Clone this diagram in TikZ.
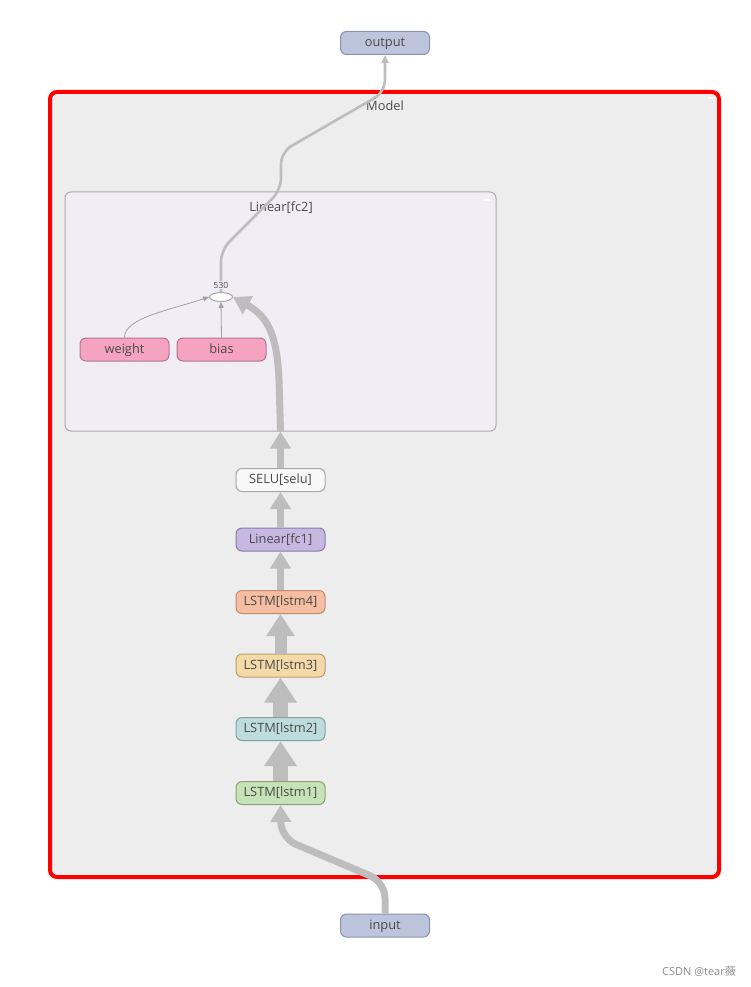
\documentclass[tikz,border=0pt]{standalone}
\usepackage{fontspec}
\setmainfont{Open Sans}
\newfontfamily\cjkfont{Noto Sans CJK SC}
\usetikzlibrary{arrows.meta,shapes.geometric}
\definecolor{edgec}{HTML}{BDBDBD}
\definecolor{txtc}{HTML}{4A4A4A}
\definecolor{iofill}{HTML}{BDC5DD}\definecolor{iodraw}{HTML}{8A92AC}
\definecolor{pinkf}{HTML}{F5A3BF}\definecolor{pinkd}{HTML}{B27590}
\definecolor{seluf}{HTML}{F8F8F8}\definecolor{selud}{HTML}{A8A8A8}
\definecolor{fcf}{HTML}{C7B8E2}\definecolor{fcd}{HTML}{8A7AAA}
\definecolor{l4f}{HTML}{F5BEA0}\definecolor{l4d}{HTML}{BE8E72}
\definecolor{l3f}{HTML}{F3DAA8}\definecolor{l3d}{HTML}{B8A070}
\definecolor{l2f}{HTML}{BFDCDC}\definecolor{l2d}{HTML}{80A2A2}
\definecolor{l1f}{HTML}{C8E2B8}\definecolor{l1d}{HTML}{88A27A}
\definecolor{modelf}{HTML}{EDEDED}
\definecolor{fc2f}{HTML}{F0EEF4}\definecolor{fc2d}{HTML}{ABABAB}
\tikzset{
  opnode/.style={draw, line width=1pt, rounded corners=6pt, minimum width=89pt, minimum height=23pt, inner sep=0pt, text=txtc, font=\fontsize{12.8}{14}\selectfont, text height=9.2pt, text depth=1.8pt},
  e15/.style={draw=edgec, line width=15pt, -{Triangle[width=31pt,length=25pt]}},
  e12/.style={draw=edgec, line width=12pt, -{Triangle[width=27pt,length=22pt]}},
  e7/.style={draw=edgec, line width=7pt, -{Triangle[width=20pt,length=17pt]}},
  e3/.style={draw=edgec, line width=2.6pt, -{Triangle[width=7pt,length=8pt]}},
  ethin/.style={draw=edgec!85!black, line width=0.8pt, -{Triangle[width=5pt,length=6pt]}},
  lbl/.style={text=txtc, font=\fontsize{12.8}{14}\selectfont, inner sep=0pt},
}
\begin{document}
\begin{tikzpicture}[x=1pt,y=-1pt]
\useasboundingbox (0,0) rectangle (751,987);
% containers
\node[draw=red, line width=4pt, fill=modelf, rounded corners=7pt, minimum width=669pt, minimum height=785pt, inner sep=0pt] (model) at (384.5,484.5) {};
\draw[white, line width=1.5pt] (708,98) coordinate (mdash1) -- (716,98) coordinate (mdash2);
\node[lbl] (modellbl) at (385,106) {Model};
\node[draw=fc2d, line width=1pt, fill=fc2f, rounded corners=6pt, minimum width=431pt, minimum height=239pt, inner sep=0pt] (fc2) at (280.5,311.5) {};
\draw[white, line width=1.5pt] (484,200) coordinate (fdash1) -- (490,200) coordinate (fdash2);
\node[lbl] (fc2lbl) at (281,208) {Linear[fc2]};
% nodes
\node[opnode, fill=iofill, draw=iodraw] (output) at (385,43) {output};
\node[opnode, fill=iofill, draw=iodraw] (input) at (385,925.5) {input};
\node[opnode, fill=pinkf, draw=pinkd] (weight) at (124.5,349.5) {weight};
\node[opnode, fill=pinkf, draw=pinkd] (bias) at (221.5,349.5) {bias};
\node[opnode, fill=seluf, draw=selud] (selu) at (280.5,480) {SELU[selu]};
\node[opnode, fill=fcf, draw=fcd] (fc1) at (280.5,539.5) {Linear[fc1]};
\node[opnode, fill=l4f, draw=l4d] (lstm4) at (280.5,602) {LSTM[lstm4]};
\node[opnode, fill=l3f, draw=l3d] (lstm3) at (280.5,665.5) {LSTM[lstm3]};
\node[opnode, fill=l2f, draw=l2d] (lstm2) at (280.5,729) {LSTM[lstm2]};
\node[opnode, fill=l1f, draw=l1d] (lstm1) at (280.5,793) {LSTM[lstm1]};
\node[ellipse, draw=selud, fill=white, line width=1pt, minimum width=23pt, minimum height=9pt, inner sep=0pt] (e530) at (221,297) {};
% edges
\coordinate (inb1) at (385,882);
\coordinate (inb2) at (281,838);
\draw[e7, rounded corners=16pt] (input.north) -- (inb1) -- (inb2) -- (lstm1.south);
\draw[e15] (lstm1.north) -- (lstm2.south);
\draw[e15] (lstm2.north) -- (lstm3.south);
\draw[e12] (lstm3.north) -- (lstm4.south);
\draw[e7] (lstm4.north) -- (fc1.south);
\draw[e7] (fc1.north) -- (selu.south);
\draw[e7] (selu.north) -- (fc2.south);
\coordinate (fcin) at (279,380);
\draw[e7] (fc2.south) -- (fcin) .. controls (277,330) and (265,315) .. (e530.east);
\draw[ethin] (weight.north) .. controls (124,318) and (170,310) .. (e530.west);
\draw[ethin] (bias.north) -- (e530.south);
\coordinate (o1) at (221,250);
\coordinate (o2) at (281,190);
\coordinate (o3) at (281,152);
\coordinate (o4) at (385,92);
\draw[e3, rounded corners=12pt] (e530.north) -- (o1) -- (o2) -- (o3) -- (o4) -- (output.south);
\node[text=txtc, font=\fontsize{8.5}{9}\selectfont, inner sep=0.5pt, fill=fc2f] (l530) at (221,285) {530};
% watermark
\node[text=gray!90, font=\fontsize{11}{12}\selectfont, inner sep=0pt, anchor=east] (wm) at (736,971) {CSDN @tear{\cjkfont 薇}};
\end{tikzpicture}
\end{document}
